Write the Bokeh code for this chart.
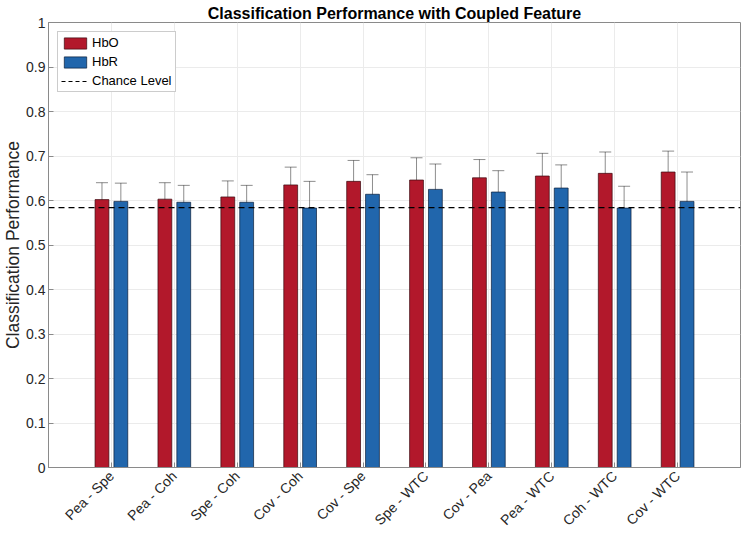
from bokeh.plotting import figure
from bokeh.models import (ColumnDataSource, FactorRange, Range1d, Whisker, TeeHead, Span,
                          FixedTicker, Legend, LegendItem)
from bokeh.transform import dodge
from bokeh.embed import file_html
from bokeh.resources import INLINE
import math

pairs = ["Pea - Spe", "Pea - Coh", "Spe - Coh", "Cov - Coh", "Cov - Spe",
         "Spe - WTC", "Cov - Pea", "Pea - WTC", "Coh - WTC", "Cov - WTC"]
hbo = [0.602, 0.603, 0.608, 0.635, 0.643, 0.646, 0.651, 0.655, 0.661, 0.664]
hbo_upper = [0.640, 0.640, 0.644, 0.675, 0.690, 0.696, 0.692, 0.706, 0.709, 0.711]
hbo_lower = [0.565, 0.567, 0.572, 0.597, 0.595, 0.598, 0.612, 0.606, 0.615, 0.618]
hbr = [0.598, 0.596, 0.596, 0.583, 0.614, 0.625, 0.619, 0.628, 0.583, 0.598]
hbr_upper = [0.639, 0.634, 0.634, 0.643, 0.658, 0.682, 0.667, 0.680, 0.632, 0.664]
hbr_lower = [0.557, 0.557, 0.557, 0.523, 0.571, 0.569, 0.570, 0.576, 0.537, 0.533]
chance_level = 0.584
y_ticks = [0, 0.1, 0.2, 0.3, 0.4, 0.5, 0.6, 0.7, 0.8, 0.9, 1]
y_tick_labels = ["0", "0.1", "0.2", "0.3", "0.4", "0.5", "0.6", "0.7", "0.8", "0.9", "1"]

FONT = "Liberation Sans"
RED = "#B2182B"
BLUE = "#2166AC"
AX = "#8a8a8a"

src = ColumnDataSource(dict(cat=pairs, hbo=hbo, hbo_u=hbo_upper, hbo_l=hbo_lower,
                            hbr=hbr, hbr_u=hbr_upper, hbr_l=hbr_lower))

p = figure(width=743, height=537, output_backend="svg", toolbar_location=None,
           x_range=FactorRange(factors=pairs, range_padding=0.5, range_padding_units="absolute"),
           y_range=Range1d(0, 1),
           min_border_left=47, min_border_right=3, min_border_top=22, min_border_bottom=70)

p.title.text = "Classification Performance with Coupled Feature"
p.title.align = "center"
p.title.text_font = FONT
p.title.text_font_size = "16px"
p.title.text_font_style = "bold"
p.title.text_color = "#000000"
p.title.standoff = 2
p.title.offset = 0

p.background_fill_color = "white"
p.border_fill_color = "white"
p.outline_line_color = AX
p.outline_line_width = 1

# grid
p.xgrid.grid_line_color = "#ebebeb"
p.ygrid.grid_line_color = "#ebebeb"
p.ygrid.ticker = FixedTicker(ticks=y_ticks)

# axes
p.yaxis.ticker = FixedTicker(ticks=y_ticks)
p.yaxis.major_label_overrides = {t: l for t, l in zip(y_ticks, y_tick_labels)}
p.yaxis.axis_label = "Classification Performance"
for ax in (p.xaxis[0], p.yaxis[0]):
    ax.axis_line_color = AX
    ax.major_tick_line_color = AX
    ax.major_tick_in = 5
    ax.major_tick_out = 0
    ax.minor_tick_line_color = None
    ax.major_label_text_font = FONT
    ax.major_label_text_font_size = "14px"
    ax.major_label_text_color = "#262626"
    ax.axis_label_text_font = FONT
    ax.axis_label_text_font_size = "17.5px"
    ax.axis_label_text_font_style = "normal"
    ax.axis_label_text_color = "#262626"
p.yaxis.axis_label_standoff = 0
p.yaxis.major_label_standoff = 3
p.xaxis.major_label_orientation = math.pi / 4
p.xaxis.major_label_standoff = 6

# bars
r1 = p.vbar(x=dodge("cat", -0.15, range=p.x_range), top="hbo", bottom=0, width=0.22, source=src,
            fill_color=RED, line_color="#3a0a10", line_alpha=0.7, line_width=1)
r2 = p.vbar(x=dodge("cat", 0.15, range=p.x_range), top="hbr", bottom=0, width=0.22, source=src,
            fill_color=BLUE, line_color="#0a1e3a", line_alpha=0.7, line_width=1)

for off, up, lo in ((-0.15, "hbo_u", "hbo_l"), (0.15, "hbr_u", "hbr_l")):
    w = Whisker(source=src, base=dodge("cat", off, range=p.x_range), upper=up, lower=lo,
                line_color="black", line_alpha=0.45, line_width=1,
                upper_head=TeeHead(size=12, line_color="black", line_alpha=0.45, line_width=1),
                lower_head=TeeHead(size=12, line_color="black", line_alpha=0.45, line_width=1))
    p.add_layout(w)

span = Span(location=chance_level, dimension="width", line_color="black",
            line_dash="6 4", line_width=1.2)
p.add_layout(span)
# invisible single-point line used only for the legend entry
r3 = p.line(x=[pairs[0]], y=[chance_level], line_color="black", line_dash="4 3", line_width=1.2)

legend = Legend(items=[LegendItem(label="HbO", renderers=[r1]),
                       LegendItem(label="HbR", renderers=[r2]),
                       LegendItem(label="Chance Level", renderers=[r3])],
                location="top_left", margin=9, padding=3, spacing=4,
                glyph_width=28, glyph_height=14, label_standoff=3,
                label_text_font=FONT, label_text_font_size="13px", label_text_color="#000000",
                label_height=14, border_line_color="#9a9a9a", border_line_width=1,
                background_fill_color="white", background_fill_alpha=1)
p.add_layout(legend)

open("out.html", "w").write(file_html(p, INLINE))
